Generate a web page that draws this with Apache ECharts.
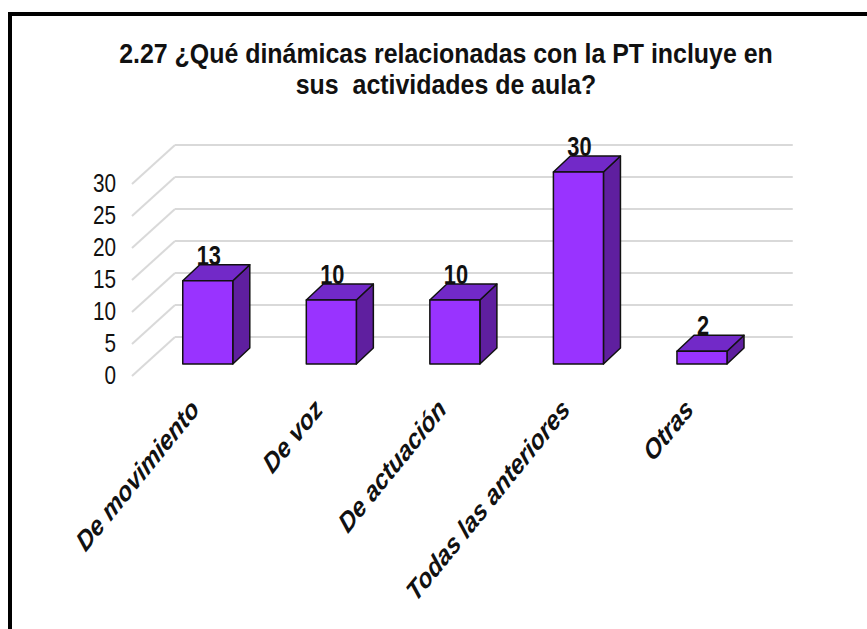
<!DOCTYPE html>
<html>
<head>
<meta charset="utf-8">
<script src="https://cdn.jsdelivr.net/npm/echarts@6/dist/echarts.min.js"></script>
<style>
html,body{margin:0;padding:0;background:#fff;}
#c{width:867px;height:629px;}
</style>
</head>
<body>
<div id="c"></div>
<script>
const categories = ['De movimiento', 'De voz', 'De actuación', 'Todas las anteriores', 'Otras'];
const values = [13, 10, 10, 30, 2];
const yTicks = [0, 5, 10, 15, 20, 25, 30];
const titleText = '2.27 ¿Qué dinámicas relacionadas con la PT incluye en\nsus  actividades de aula?';

const FONT = "'Liberation Sans', Arial, sans-serif";

// depth offsets (pixels) relative to the front plane of the floor/grid
const BACK = [43, -39];     // back wall
const BARF = [14, -12];     // bar front face
const BAR_D = [17, -16];    // bar depth
const SQUEEZE = 0.81;       // horizontal compression of the original picture

const chart = echarts.init(document.getElementById('c'), null, {renderer: 'svg'});

const option = {
  animation: false,
  backgroundColor: '#fff',
  graphic: [
    {
      type: 'rect', silent: true,
      shape: {x: 10, y: 14, width: 920, height: 700},
      style: {fill: 'none', stroke: '#000', lineWidth: 4}
    },
    {
      type: 'text', silent: true,
      x: 446, y: 37, scaleX: 0.89, scaleY: 1,
      style: {
        text: titleText, align: 'center', verticalAlign: 'top',
        fontFamily: FONT, fontSize: 28, fontWeight: 'bold', fill: '#111', lineHeight: 32
      }
    }
  ],
  grid: {left: 132, right: 117.25, top: 184, bottom: 253},
  xAxis: {
    type: 'category',
    data: categories,
    axisLine: {show: false},
    axisTick: {show: false},
    axisLabel: {show: false}
  },
  yAxis: {
    type: 'value', min: 0, max: 30, interval: 5,
    splitLine: {show: false},
    axisLine: {show: false},
    axisTick: {show: false},
    axisLabel: {show: false}
  },
  series: [
    {
      type: 'custom',
      z: 1,
      silent: true,
      data: yTicks.map(v => [0, v]),
      renderItem: function (params, api) {
        const v = api.value(1);
        const nCat = categories.length;
        const band = api.size([1, 0])[0];
        const p = api.coord([0, v]);
        const lx = p[0] - band / 2;
        const ly = p[1];
        const rx = lx + band * nCat;
        return {
          type: 'group',
          children: [
            {type: 'line', shape: {x1: lx, y1: ly, x2: lx + BACK[0], y2: ly + BACK[1]},
              style: {stroke: '#d9d9d9', lineWidth: 2}},
            {type: 'line', shape: {x1: lx + BACK[0], y1: ly + BACK[1], x2: rx + BACK[0], y2: ly + BACK[1]},
              style: {stroke: '#d9d9d9', lineWidth: 2}},
            {type: 'text', x: lx - 16, y: ly - 1, scaleX: 0.83,
              style: {text: String(v), align: 'right', verticalAlign: 'middle',
                fontFamily: FONT, fontSize: 25, fill: '#111'}}
          ]
        };
      }
    },
    {
      type: 'custom',
      z: 5,
      data: values.map((v, i) => [i, v]),
      renderItem: function (params, api) {
        const i = api.value(0);
        const v = api.value(1);
        const c0 = api.coord([i, 0]);
        const c1 = api.coord([i, v]);
        const bw = api.size([1, 0])[0] * 0.405;
        const cx = c0[0] + BARF[0];
        const x0 = cx - bw / 2, x1 = cx + bw / 2;
        const yb = c0[1] + BARF[1], yt = c1[1] + BARF[1];
        const dx = BAR_D[0], dy = BAR_D[1];
        const st = {stroke: '#111', lineWidth: 1.5, lineJoin: 'round'};
        return {
          type: 'group',
          children: [
            {type: 'polygon', shape: {points: [[x1, yt], [x1 + dx, yt + dy], [x1 + dx, yb + dy], [x1, yb]]},
              style: Object.assign({fill: '#5f1f9f'}, st)},
            {type: 'polygon', shape: {points: [[x0, yt], [x0 + dx, yt + dy], [x1 + dx, yt + dy], [x1, yt]]},
              style: Object.assign({fill: '#7229c8'}, st)},
            {type: 'polygon', shape: {points: [[x0, yt], [x1, yt], [x1, yb], [x0, yb]]},
              style: Object.assign({fill: '#9933ff'}, st)},
            {type: 'text', x: cx + 1, y: yt + dy + 4, scaleX: 0.78,
              style: {text: String(v), align: 'center', verticalAlign: 'bottom',
                fontFamily: FONT, fontSize: 28, fontWeight: 'bold', fill: '#111'}},
            {
              type: 'group', x: c0[0] + 1, y: c0[1] + 28, scaleX: SQUEEZE,
              children: [{
                type: 'text', rotation: Math.PI / 4,
                style: {text: categories[i], align: 'right', verticalAlign: 'middle',
                  fontFamily: FONT, fontSize: 28, fontWeight: 'bold', fontStyle: 'italic', fill: '#111'}
              }]
            }
          ]
        };
      }
    }
  ]
};
chart.setOption(option);
</script>
</body>
</html>
